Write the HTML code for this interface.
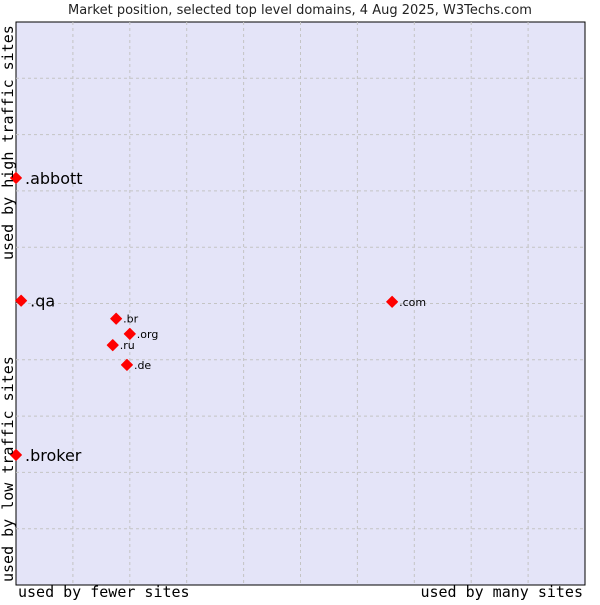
<!DOCTYPE html>
<html><head><meta charset="utf-8"><style>
body{margin:0;background:#fff;width:600px;height:600px;overflow:hidden}
svg text{font-family:"DejaVu Sans","Liberation Sans",sans-serif}
.mono{font-family:"DejaVu Sans Mono","Liberation Mono",monospace}
</style></head><body>
<svg id="chart" width="600" height="600">
<text x="300" y="14" text-anchor="middle" font-size="13" fill="#222">Market position, selected top level domains, 4 Aug 2025, W3Techs.com</text>
<rect x="16" y="22" width="569" height="563" fill="#e4e4f8" stroke="#000" stroke-width="1"/>
<g id="grid"></g>
<g id="marks"></g>
<text class="mono" x="18" y="597" font-size="15">used by fewer sites</text>
<text class="mono" x="583" y="597" font-size="15" text-anchor="end">used by many sites</text>
<text class="mono" transform="translate(13,260) rotate(-90)" font-size="15">used by high traffic sites</text>
<text class="mono" transform="translate(13,582) rotate(-90)" font-size="15">used by low traffic sites</text>
</svg>
<script>
const labels=[".abbott",".qa",".broker",".com",".br",".org",".ru",".de"];
const xValues=[0,0.9,0,66.1,17.6,20.0,17.0,19.5];
const yValues=[72.3,50.5,23.1,50.3,47.3,44.6,42.6,39.1];
const bigLabel=[true,true,true,false,false,false,false,false];
const X0=16,X1=585,Y0=585,Y1=22;
const sx=v=>X0+v/100*(X1-X0);
const sy=v=>Y0-v/100*(Y0-Y1);
const NS="http://www.w3.org/2000/svg";
const grid=document.getElementById('grid');
for(let i=1;i<10;i++){
  const v=document.createElementNS(NS,'line');
  v.setAttribute('x1',sx(i*10));v.setAttribute('x2',sx(i*10));v.setAttribute('y1',Y1);v.setAttribute('y2',Y0);
  v.setAttribute('stroke','#c4c4c4');v.setAttribute('stroke-dasharray','3,3');
  
  
  grid.appendChild(v);
  const h=document.createElementNS(NS,'line');
  h.setAttribute('y1',sy(i*10));h.setAttribute('y2',sy(i*10));h.setAttribute('x1',X0);h.setAttribute('x2',X1);
  h.setAttribute('stroke','#c4c4c4');h.setAttribute('stroke-dasharray','3,3');
  
  
  grid.appendChild(h);
}
const marks=document.getElementById('marks');
labels.forEach((l,i)=>{
  const x=sx(xValues[i]),y=sy(yValues[i]);
  const p=document.createElementNS(NS,'path');
  p.setAttribute('d',`M${x-5.5},${y}L${x},${y-5.5}L${x+5.5},${y}L${x},${y+5.5}Z`);
  p.setAttribute('fill','#f00');
  p.setAttribute('stroke','#f00');
  p.setAttribute('stroke-linejoin','round');
  
  
  marks.appendChild(p);
  const t=document.createElementNS(NS,'text');
  t.setAttribute('x',x+(bigLabel[i]?9:7));
  t.setAttribute('y',y+(bigLabel[i]?6:4));
  t.setAttribute('font-size',bigLabel[i]?16:11);
  t.setAttribute('fill','#000');
  t.textContent=l;
  
  
  marks.appendChild(t);
});
</script>
</body></html>
